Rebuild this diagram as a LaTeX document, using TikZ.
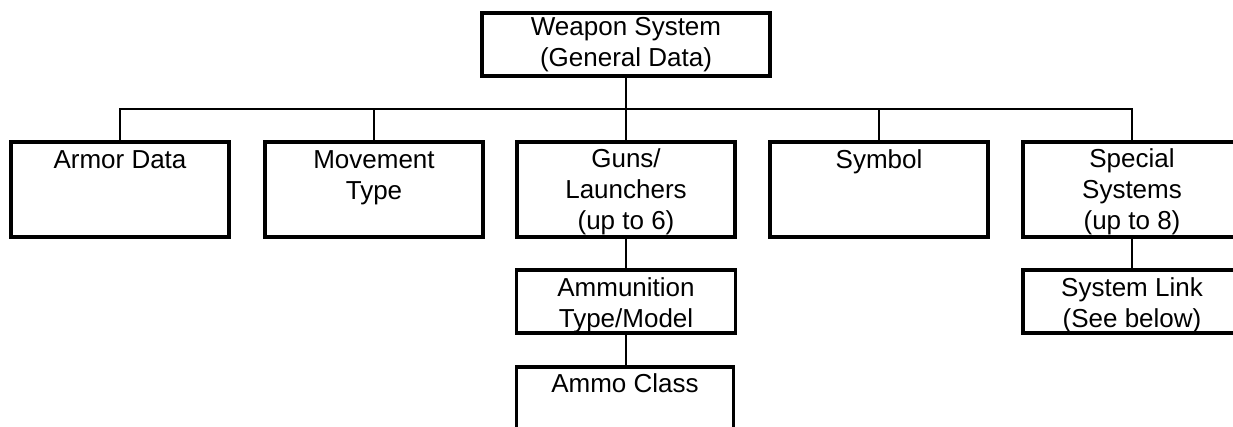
\documentclass[tikz,border=0pt]{standalone}
\usepackage{fontspec}
\setmainfont{Liberation Sans}
\newcommand{\boxtext}[4]{\parbox[t][#2][t]{#1}{\fontsize{26pt}{31pt}\selectfont\centering\rule{0pt}{#3}#4\par}}
\begin{document}
\begin{tikzpicture}[x=1pt,y=-1pt,
  box/.style={draw, line width=3.2pt, inner sep=0pt, outer sep=0pt, anchor=north},
  conn/.style={line width=1.8pt}]
\useasboundingbox (0,0) rectangle (1233,427);
\clip (0,0) rectangle (1233,427);
\node[box] (ws) at (626,13) {\boxtext{288pt}{63pt}{23pt}{Weapon System\\(General Data)}};
\node[box] (armor) at (120,142) {\boxtext{218pt}{95pt}{27pt}{Armor Data}};
\node[box] (move) at (374,142) {\boxtext{218pt}{95pt}{27pt}{Movement\\Type}};
\node[box] (guns) at (626,142) {\boxtext{218pt}{95pt}{26pt}{Guns/\\Launchers\\(up to 6)}};
\node[box] (sym) at (879,142) {\boxtext{218pt}{95pt}{27pt}{Symbol}};
\node[box] (spec) at (1132,142) {\boxtext{218pt}{95pt}{26pt}{Special\\Systems\\(up to 8)}};
\node[box] (ammo) at (626,270) {\boxtext{219pt}{63pt}{27pt}{Ammunition\\Type/Model}};
\node[box] (link) at (1132,270) {\boxtext{218pt}{63pt}{27pt}{System Link\\(See below)}};
\node[box] (class) at (625,367) {\boxtext{217pt}{95pt}{25pt}{Ammo Class}};
\coordinate (bus) at (0,109);
\draw[conn] (ws.south) -- (ws.south |- bus);
\draw[conn] (armor.north) -- (armor.north |- bus) -- (spec.north |- bus) -- (spec.north);
\draw[conn] (move.north) -- (move.north |- bus);
\draw[conn] (guns.north) -- (guns.north |- bus);
\draw[conn] (sym.north) -- (sym.north |- bus);
\draw[conn] (guns.south) -- (ammo.north);
\draw[conn] (ammo.south) -- (class.north -| ammo.south);
\draw[conn] (spec.south) -- (link.north);
\end{tikzpicture}
\end{document}
